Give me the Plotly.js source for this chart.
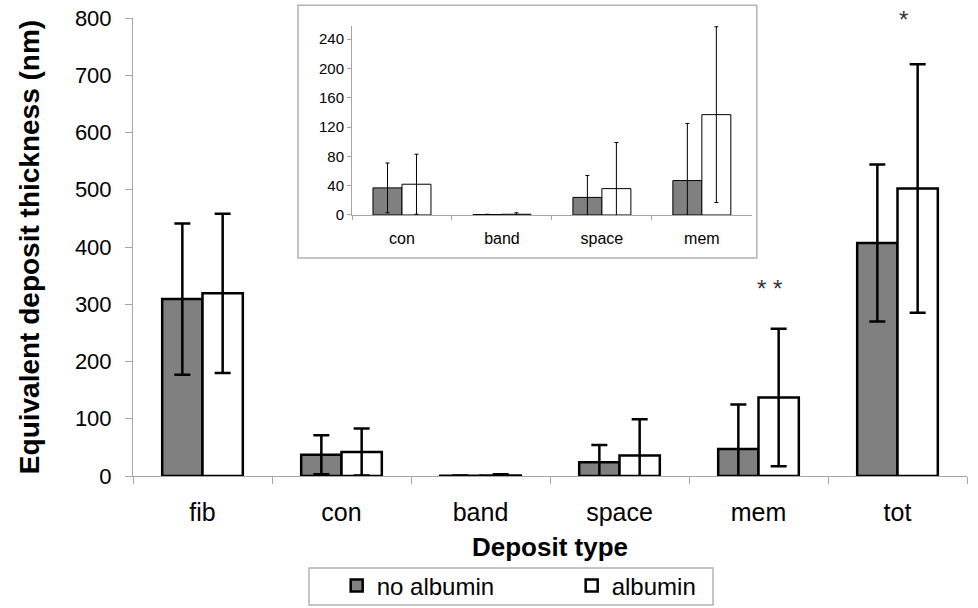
<!DOCTYPE html>
<html>
<head>
<meta charset="utf-8">
<script src="https://cdn.plot.ly/plotly-3.0.1.min.js"></script>
<style>html,body{margin:0;padding:0;background:#fff;}#chart{width:978px;height:608px;}</style>
</head>
<body>
<div id="chart"></div>
<script>
var categories = ["fib", "con", "band", "space", "mem", "tot"];
var noAlbumin = [309, 37, 0.5, 24, 47, 407];
var noAlbuminErr = [132, 34, 0.5, 30, 78, 137];
var albumin = [319, 42, 1, 36, 137, 502];
var albuminErr = [139, 41, 2, 63, 120, 217];
var seriesNames = ["no albumin", "albumin"];
var mainTicks = [0, 100, 200, 300, 400, 500, 600, 700, 800];
var insetTicks = [0, 40, 80, 120, 160, 200, 240];

var FONT = "Liberation Sans, Arial, sans-serif";
var insetCats = categories.slice(1, 5);

function barTrace(name, x, y, err, color, xa, ya, lw, ew, ecap, show) {
  return {
    type: "bar", name: name, x: x, y: y, xaxis: xa, yaxis: ya,
    marker: {color: color, line: {color: "#000", width: lw}},
    error_y: {type: "data", array: err, visible: true, color: "#000", thickness: ew, width: ecap},
    showlegend: show, hoverinfo: "skip"
  };
}

var data = [
  barTrace(seriesNames[0], categories, noAlbumin, noAlbuminErr, "#808080", "x", "y", 2.5, 2.5, 8, true),
  barTrace(seriesNames[1], categories, albumin, albuminErr, "#ffffff", "x", "y", 2.5, 2.5, 8, true),
  barTrace(seriesNames[0], insetCats, noAlbumin.slice(1, 5), noAlbuminErr.slice(1, 5), "#808080", "x2", "y2", 1, 1, 2, false),
  barTrace(seriesNames[1], insetCats, albumin.slice(1, 5), albuminErr.slice(1, 5), "#ffffff", "x2", "y2", 1, 1, 2, false)
];

var layout = {
  width: 978, height: 608,
  margin: {l: 133, r: 11, t: 18, b: 132, autoexpand: false},
  paper_bgcolor: "#fff", plot_bgcolor: "rgba(0,0,0,0)",
  font: {family: FONT, color: "#000"},
  barmode: "group", bargap: 0.42, bargroupgap: 0,
  xaxis: {
    domain: [0, 1], type: "category", categoryorder: "array", categoryarray: categories,
    showline: true, linecolor: "#a6a6a6", linewidth: 1,
    ticks: "outside", tickson: "boundaries", ticklen: 7, tickcolor: "#a6a6a6",
    ticklabelstandoff: 14,
    tickfont: {size: 25, family: FONT}, showgrid: false, zeroline: false,
    title: {text: "<b>Deposit type</b>", font: {size: 26, family: FONT}, standoff: 12}
  },
  yaxis: {
    domain: [0, 1], range: [0, 800], tickvals: mainTicks, ticktext: mainTicks.map(String),
    showline: true, linecolor: "#a6a6a6", linewidth: 1,
    ticks: "outside", ticklen: 7, tickcolor: "#a6a6a6",
    ticklabelstandoff: 9,
    tickfont: {size: 22, family: FONT}, showgrid: false, zeroline: false,
    title: {text: "<b>Equivalent deposit thickness (nm)</b>", font: {size: 28, family: FONT}, standoff: 27}
  },
  xaxis2: {
    domain: [0.2626, 0.742], anchor: "y2", type: "category", categoryorder: "array", categoryarray: insetCats,
    showline: true, linecolor: "#a6a6a6", linewidth: 1,
    ticks: "outside", tickson: "boundaries", ticklen: 4, tickcolor: "#a6a6a6",
    ticklabelstandoff: 9,
    tickfont: {size: 16, family: FONT}, showgrid: false, zeroline: false
  },
  yaxis2: {
    domain: [0.5699, 0.9825], anchor: "x2", range: [0, 258], tickvals: insetTicks, ticktext: insetTicks.map(String),
    showline: true, linecolor: "#a6a6a6", linewidth: 1,
    ticks: "outside", ticklen: 4, tickcolor: "#a6a6a6",
    tickfont: {size: 15, family: FONT}, showgrid: false, zeroline: false
  },
  shapes: [
    {
      type: "rect", xref: "paper", yref: "paper", layer: "below",
      x0: 0.1978, x1: 0.748, y0: 0.476, y1: 1.028,
      line: {color: "#b3b3b3", width: 1.5}, fillcolor: "#fff"
    },
    {
      type: "rect", xref: "paper", yref: "paper", layer: "below",
      x0: (309 - 133) / 834, x1: (713 - 133) / 834, y0: (476 - 605) / 458, y1: (476 - 568) / 458,
      line: {color: "#b3b3b3", width: 1.5}, fillcolor: "#fff"
    }
  ],
  annotations: [
    {x: 5.04, y: 798, xref: "x", yref: "y", yshift: 0, text: "*", showarrow: false, font: {size: 24, family: FONT, color: "#333"}},
    {x: 4.08, y: 328, xref: "x", yref: "y", text: "* *", showarrow: false, font: {size: 24, family: FONT, color: "#333"}}
  ],
  legend: {
    orientation: "h", x: 0.526, xanchor: "center", y: (476 - 586) / 458, yanchor: "middle",
    bgcolor: "rgba(0,0,0,0)", borderwidth: 0,
    font: {size: 24, family: FONT}, entrywidth: 190, traceorder: "normal"
  }
};

Plotly.newPlot("chart", data, layout, {displayModeBar: false, staticPlot: true});
</script>
</body>
</html>
